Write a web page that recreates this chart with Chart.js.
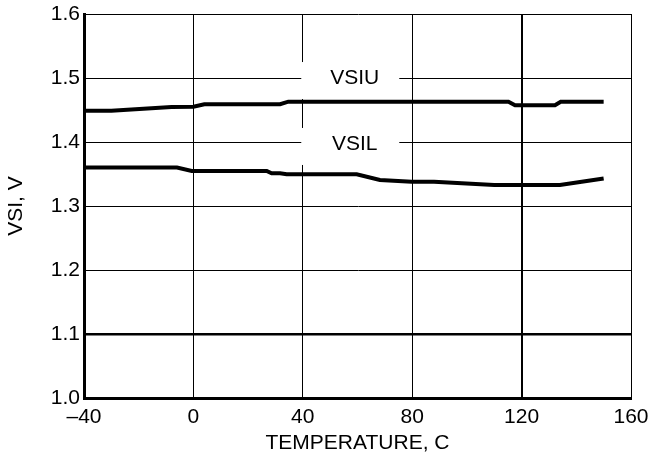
<!DOCTYPE html>
<html lang="en">
<head>
    <meta charset="UTF-8">
    <title>VSI vs Temperature</title>
    <script src="https://cdn.jsdelivr.net/npm/chart.js"></script>
    <style>
        body { margin: 0; background: #fff; }
        #wrap { width: 652px; height: 460px; position: relative; }
    </style>
</head>
<body>
    <div id="wrap"><canvas id="vsiChart"></canvas></div>

    <script>
        // values
        const vsiuTemp = [-40, -30, -8, 0, 4, 31.7, 34.7, 115.2, 117.6, 132.2, 134.3, 150];
        const vsiuVolt = [1.449, 1.449, 1.4545, 1.455, 1.459, 1.459, 1.463, 1.463, 1.4575, 1.4575, 1.463, 1.463];

        const vsilTemp = [-40, -6, -0.6, 26.8, 28.6, 31.7, 34.1, 59.7, 68.2, 79.8, 88, 110, 134, 150];
        const vsilVolt = [1.360, 1.360, 1.3548, 1.3548, 1.351, 1.351, 1.3495, 1.3495, 1.3406, 1.338, 1.338, 1.333, 1.333, 1.343];

        // axis ticks
        const xTicks = [-40, 0, 40, 80, 120, 160];
        const xTickLabels = ['\u201340', '0', '40', '80', '120', '160'];
        const yTicks = [1.0, 1.1, 1.2, 1.3, 1.4, 1.5, 1.6];
        const yTickLabels = ['1.0', '1.1', '1.2', '1.3', '1.4', '1.5', '1.6'];

        // curve names placed on the plot
        const curveNames = ['VSIU', 'VSIL'];
        const nameTemp = [59, 59];
        const nameVolt = [1.5015, 1.3985];

        const FONT = '"Liberation Sans", Arial, sans-serif';
        const FSIZE = 21;

        function toPoints(xs, ys) {
            return xs.map((x, i) => ({ x: x, y: ys[i] }));
        }

        // white boxes with curve names, drawn over the grid but under the curves
        const curveNamePlugin = {
            id: 'curveNames',
            beforeDatasetsDraw(chart) {
                const ctx = chart.ctx;
                const xs = chart.scales.x, ys = chart.scales.y;
                ctx.save();
                ctx.font = FSIZE + 'px ' + FONT;
                ctx.textAlign = 'center';
                ctx.textBaseline = 'middle';
                curveNames.forEach((name, i) => {
                    const px = xs.getPixelForValue(nameTemp[i]);
                    const py = ys.getPixelForValue(nameVolt[i]);
                    ctx.fillStyle = '#fff';
                    ctx.fillRect(px - 53.5, py - 15, 98, 37);
                    ctx.fillStyle = '#000';
                    ctx.fillText(name, px, py + 1);
                });
                ctx.restore();
            }
        };

        const ctx = document.getElementById('vsiChart').getContext('2d');

        new Chart(ctx, {
            type: 'line',
            data: {
                datasets: [
                    {
                        label: 'VSIU',
                        data: toPoints(vsiuTemp, vsiuVolt),
                        borderColor: '#000',
                        borderWidth: 4,
                        pointRadius: 0,
                        tension: 0,
                        fill: false
                    },
                    {
                        label: 'VSIL',
                        data: toPoints(vsilTemp, vsilVolt),
                        borderColor: '#000',
                        borderWidth: 4,
                        pointRadius: 0,
                        tension: 0,
                        fill: false
                    }
                ]
            },
            options: {
                responsive: true,
                maintainAspectRatio: false,
                animation: false,
                layout: { padding: { top: 14, right: 21, left: 0, bottom: 0 } },
                plugins: {
                    legend: { display: false },
                    tooltip: { enabled: false }
                },
                scales: {
                    x: {
                        type: 'linear',
                        min: -40,
                        max: 160,
                        afterBuildTicks: (scale) => { scale.ticks = xTicks.map(v => ({ value: v })); },
                        afterFit: (scale) => {
                            scale.height = 62;
                            scale.paddingLeft = 0;
                            scale.paddingRight = 0;
                        },
                        ticks: {
                            padding: 7,
                            maxRotation: 0,
                            color: '#000',
                            font: { family: FONT, size: FSIZE },
                            callback: (value) => xTickLabels[xTicks.indexOf(value)]
                        },
                        grid: {
                            color: '#000',
                            drawTicks: false,
                            lineWidth: (c) => (c.tick && c.tick.value === 120 ? 2 : 1)
                        },
                        border: { color: '#000', width: 3 },
                        title: {
                            display: true,
                            text: 'TEMPERATURE, C',
                            color: '#000',
                            font: { family: FONT, size: FSIZE },
                            padding: { top: 0, bottom: 4 }
                        }
                    },
                    y: {
                        type: 'linear',
                        min: 1.0,
                        max: 1.6,
                        afterBuildTicks: (scale) => { scale.ticks = yTicks.map(v => ({ value: v })); },
                        afterFit: (scale) => {
                            scale.width = 84;
                            scale.paddingTop = 0;
                            scale.paddingBottom = 0;
                        },
                        ticks: {
                            padding: 4,
                            color: '#000',
                            font: { family: FONT, size: FSIZE },
                            callback: (value) => yTickLabels[yTicks.indexOf(value)]
                        },
                        grid: {
                            color: '#000',
                            drawTicks: false,
                            lineWidth: (c) => (c.tick && c.tick.value === 1.1 ? 2.5 : 1)
                        },
                        border: { color: '#000', width: 3 },
                        title: {
                            display: true,
                            text: 'VSI, V',
                            color: '#000',
                            font: { family: FONT, size: FSIZE },
                            padding: { top: 4, bottom: 0 }
                        }
                    }
                }
            },
            plugins: [curveNamePlugin]
        });
    </script>
</body>
</html>
